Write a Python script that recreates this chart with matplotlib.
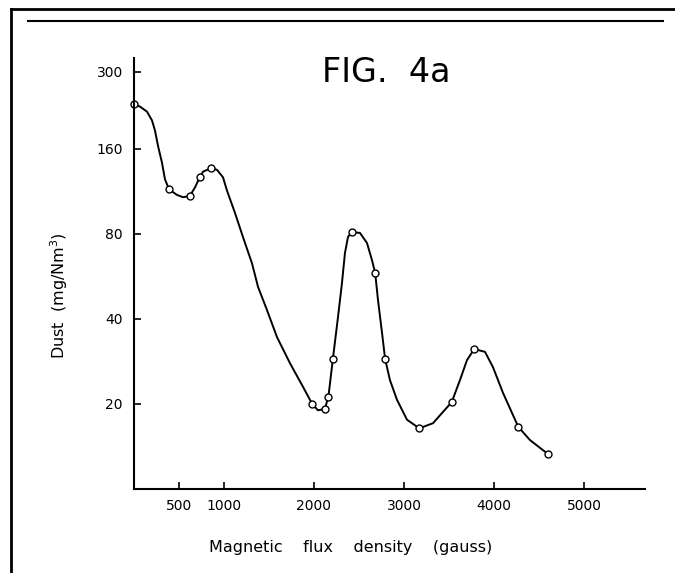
import matplotlib
matplotlib.use('Agg')
from matplotlib import pyplot as plt
from matplotlib.lines import Line2D
from matplotlib.ticker import FixedLocator, FixedFormatter, NullLocator

# measured points (open circles)
flux_pts = [0, 390, 620, 730, 860, 1980, 2120, 2160, 2210, 2420, 2680,
            2790, 3170, 3530, 3780, 4270, 4600]
dust_pts = [231, 115, 109, 127, 137, 20, 19.2, 21.2, 28.9, 81.3, 58.2,
            28.9, 16.4, 20.3, 31.3, 16.6, 13.3]

# hand drawn curve
curve_flux = [0, 67, 144, 200, 233, 267, 311, 344, 390, 478, 544, 620, 678,
              730, 767, 860, 922, 989, 1033, 1122, 1211, 1311, 1378, 1478,
              1589, 1733, 1878, 1980, 2044, 2120, 2160, 2210, 2267, 2311,
              2344, 2378, 2420, 2511, 2589, 2644, 2680, 2711, 2756, 2790,
              2844, 2922, 3033, 3170, 3322, 3530, 3622, 3700, 3780, 3900,
              3989, 4100, 4270, 4400, 4600]
curve_dust = [231, 226, 217, 202, 186, 164, 143, 125, 115, 110, 108, 109, 117,
              127, 133, 137, 135, 127, 114, 95, 78, 63, 52, 43,
              34.5, 27.9, 23.0, 20, 19.0, 19.2, 21.2, 28.9, 40.7, 53.7,
              68.5, 78.1, 81.3, 80.7, 74.3, 64.7, 58.2, 46.7, 35.7, 28.9,
              24.3, 20.7, 17.6, 16.4, 17.1, 20.3, 24.3, 28.6, 31.3, 30.6,
              27.0, 21.9, 16.6, 14.9, 13.3]

x_ticks = [500, 1000, 2000, 3000, 4000, 5000]
y_ticks = [20, 40, 80, 160, 300]

fig = plt.figure(figsize=(6.75, 5.73), dpi=100)
ax = fig.add_axes([134 / 675, 84 / 573, 511 / 675, 431 / 573])

ax.plot(curve_flux, curve_dust, color='black', lw=1.4, solid_joinstyle='round')
ax.plot(flux_pts, dust_pts, 'o', ms=5, mfc='white', mec='black', mew=1.0,
        clip_on=False)

ax.set_yscale('log')
ax.set_xlim(0, 5678)
ax.set_ylim(10, 336)

ax.xaxis.set_major_locator(FixedLocator(x_ticks))
ax.xaxis.set_major_formatter(FixedFormatter([str(t) for t in x_ticks]))
ax.yaxis.set_major_locator(FixedLocator(y_ticks))
ax.yaxis.set_major_formatter(FixedFormatter([str(t) for t in y_ticks]))
ax.yaxis.set_minor_locator(NullLocator())
ax.xaxis.set_minor_locator(NullLocator())

ax.tick_params(direction='in', length=5, width=1.2, labelsize=10, pad=7)
ax.tick_params(axis='y', pad=8)
for side in ['top', 'right']:
    ax.spines[side].set_visible(False)
for side in ['left', 'bottom']:
    ax.spines[side].set_linewidth(1.5)

ax.set_xlabel('Magnetic    flux    density    (gauss)', fontsize=11.5)
ax.xaxis.set_label_coords(0.423, -0.118)
ax.set_ylabel('Dust  (mg/Nm$^3$)', fontsize=11.5)
ax.yaxis.set_label_coords(-0.125, 0.448)

fig.text(386 / 675, 1 - 72 / 573, 'FIG.  4a', fontsize=24, ha='center',
         va='center')

# page frame
fig.add_artist(Line2D([11 / 675, 1], [1 - 9 / 573, 1 - 9 / 573],
                      transform=fig.transFigure, color='black', lw=2))
fig.add_artist(Line2D([11 / 675, 11 / 675], [0, 1 - 9 / 573],
                      transform=fig.transFigure, color='black', lw=2))
fig.add_artist(Line2D([28 / 675, 663 / 675], [1 - 21 / 573, 1 - 21 / 573],
                      transform=fig.transFigure, color='black', lw=1.5))

fig.savefig('out.png', dpi=100)
